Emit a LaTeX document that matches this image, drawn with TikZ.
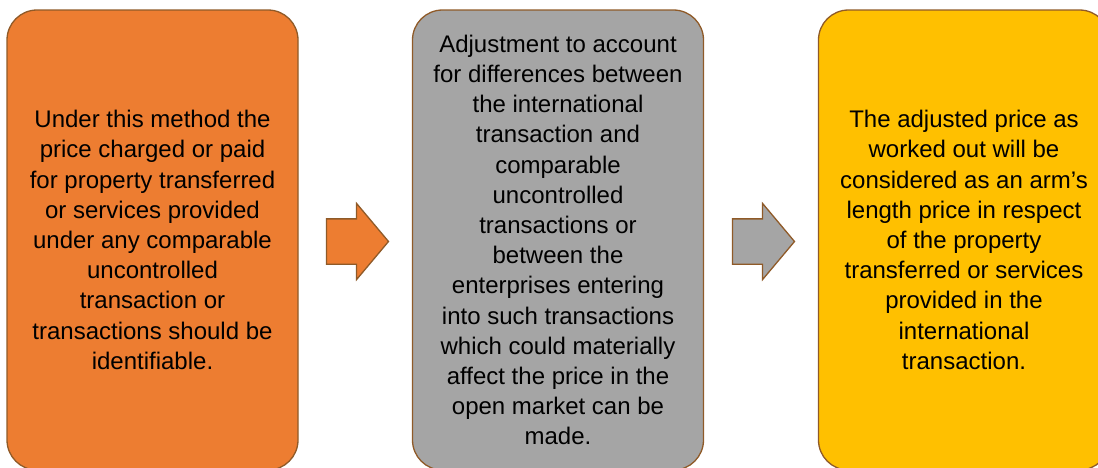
\documentclass[tikz,border=0pt]{standalone}
\usepackage{fontspec}
\setmainfont{Liberation Sans}
\usetikzlibrary{positioning, shapes.arrows}
\definecolor{boxorange}{HTML}{ED7D31}
\definecolor{boxgray}{HTML}{A5A5A5}
\definecolor{boxgold}{HTML}{FFC000}
\definecolor{boxline}{RGB}{143,90,40}
\tikzstyle{Box} = [
draw=boxline,
line width=1.3pt,
rounded corners=30pt,
minimum width=291pt,
minimum height=460pt,
inner sep=0pt,
align=center,
font=\fontsize{24}{30.2}\selectfont]
\tikzstyle{Step} = [
single arrow,
draw=boxline,
line width=1.3pt,
inner xsep=0pt,
inner ysep=22pt,
minimum height=62pt,
single arrow head extend=15.5pt,
single arrow tip angle=100]

\begin{document}
\begin{tikzpicture}[x=1pt, y=-1pt]
    \useasboundingbox (0,0) rectangle (1098,467);
    \node [Box, fill=boxorange](1) at (152.5,240){Under this method the\\price charged or paid\\for property transferred\\or services provided\\under any comparable\\uncontrolled\\transaction or\\transactions should be\\identifiable.};
    \node [Box, fill=boxgray](2) at (558,240){Adjustment to account\\for differences between\\the international\\transaction and\\comparable\\uncontrolled\\transactions or\\between the\\enterprises entering\\into such transactions\\which could materially\\affect the price in the\\open market can be\\made.};
    \node [Box, fill=boxgold](3) at (964,240){The adjusted price as\\worked out will be\\considered as an arm’s\\length price in respect\\of the property\\transferred or services\\provided in the\\international\\transaction.};

    \node [Step, fill=boxorange](4) at (348,241.5){};
    \node [Step, fill=boxgray](5) at (754,241.5){};
\end{tikzpicture}
\end{document}
